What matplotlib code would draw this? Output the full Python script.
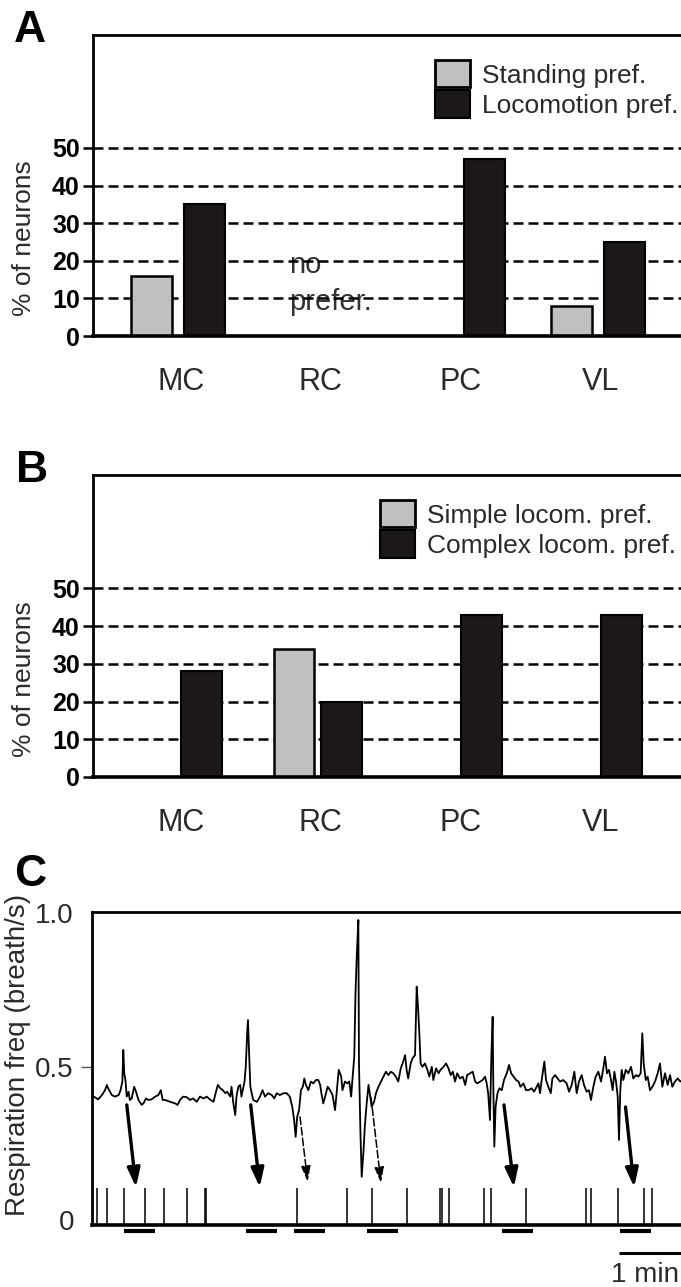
import matplotlib
matplotlib.use('Agg')
import matplotlib.pyplot as plt
import numpy as np
from matplotlib.patches import Patch, FancyArrowPatch

plt.rcParams['font.family'] = ['Liberation Sans', 'DejaVu Sans']

# ---------------- data ----------------
regions = ['MC', 'RC', 'PC', 'VL']
pct_ticks = [0, 10, 20, 30, 40, 50]

standing_pref = [16, 0, 0, 8]
locomotion_pref = [35, 0, 47, 25]
legend_A = ['Standing pref.', 'Locomotion pref.']

simple_locom_pref = [0, 34, 0, 0]
complex_locom_pref = [28, 20, 43, 43]
legend_B = ['Simple locom. pref.', 'Complex locom. pref.']

# respiration trace: (time in min, breath/s)
resp_trace = [
    (0.03, 0.402), (0.10, 0.393), (0.16, 0.407), (0.21, 0.423), (0.24, 0.44), (0.26, 0.429),
    (0.32, 0.407), (0.37, 0.402), (0.43, 0.407), (0.46, 0.423), (0.49, 0.451), (0.505, 0.554),
    (0.52, 0.478), (0.54, 0.456), (0.56, 0.402), (0.59, 0.418), (0.61, 0.391), (0.64, 0.396),
    (0.68, 0.434), (0.71, 0.418), (0.75, 0.391), (0.80, 0.375), (0.83, 0.38), (0.87, 0.396),
    (0.91, 0.391), (0.96, 0.393), (1.02, 0.402), (1.07, 0.407), (1.11, 0.423), (1.14, 0.391),
    (1.18, 0.391), (1.26, 0.385), (1.34, 0.38), (1.38, 0.375), (1.42, 0.391), (1.47, 0.402),
    (1.53, 0.40), (1.58, 0.391), (1.63, 0.396), (1.69, 0.385), (1.74, 0.402), (1.80, 0.396),
    (1.85, 0.402), (1.90, 0.393), (1.96, 0.385), (2.00, 0.418), (2.03, 0.44), (2.07, 0.429),
    (2.11, 0.423), (2.15, 0.413), (2.18, 0.418), (2.23, 0.402), (2.25, 0.434), (2.28, 0.38),
    (2.31, 0.342), (2.33, 0.402), (2.36, 0.434),
    (2.39, 0.44), (2.41, 0.402), (2.46, 0.451), (2.48, 0.499), (2.505, 0.619), (2.516, 0.651),
    (2.532, 0.554), (2.554, 0.434), (2.60, 0.391), (2.66, 0.385), (2.71, 0.402), (2.75, 0.423),
    (2.79, 0.402), (2.84, 0.413), (2.90, 0.407), (2.94, 0.396), (2.98, 0.413), (3.03, 0.407),
    (3.09, 0.413), (3.14, 0.413), (3.19, 0.402), (3.23, 0.369), (3.26, 0.326), (3.285, 0.271),
    (3.31, 0.337), (3.34, 0.358), (3.37, 0.423), (3.40, 0.434), (3.425, 0.461), (3.45, 0.44),
    (3.49, 0.423), (3.53, 0.451), (3.57, 0.445), (3.61, 0.456), (3.65, 0.456), (3.68, 0.44),
    (3.70, 0.413), (3.73, 0.38), (3.76, 0.402), (3.80, 0.434), (3.84, 0.423), (3.88, 0.407),
    (3.92, 0.358), (3.95, 0.423), (3.98, 0.489), (4.02, 0.467), (4.04, 0.423), (4.08, 0.451),
    (4.12, 0.445), (4.15, 0.451), (4.18, 0.402), (4.20, 0.456), (4.23, 0.532), (4.25, 0.738),
    (4.27, 0.858), (4.296, 0.977), (4.306, 0.51), (4.33, 0.282), (4.35, 0.141), (4.38, 0.228),
    (4.40, 0.304), (4.43, 0.38), (4.46, 0.44), (4.48, 0.413), (4.51, 0.369), (4.55, 0.385),
    (4.58, 0.413), (4.62, 0.434),
    (4.70, 0.467), (4.74, 0.483), (4.78, 0.472), (4.82, 0.483), (4.86, 0.478), (4.90, 0.467),
    (4.94, 0.451), (4.98, 0.494), (5.01, 0.51), (5.05, 0.537), (5.075, 0.489), (5.10, 0.461),
    (5.14, 0.51), (5.17, 0.527), (5.21, 0.537), (5.237, 0.76), (5.258, 0.695), (5.28, 0.608),
    (5.30, 0.51), (5.33, 0.499), (5.37, 0.51), (5.41, 0.489), (5.44, 0.467), (5.48, 0.499),
    (5.505, 0.456), (5.55, 0.494), (5.59, 0.478), (5.62, 0.489), (5.67, 0.499), (5.71, 0.51),
    (5.75, 0.494), (5.785, 0.472), (5.82, 0.483), (5.855, 0.451), (5.89, 0.478), (5.935, 0.461),
    (5.98, 0.467), (6.02, 0.44), (6.05, 0.472), (6.10, 0.478), (6.14, 0.483), (6.18, 0.451),
    (6.215, 0.445), (6.26, 0.451), (6.30, 0.456), (6.34, 0.467), (6.366, 0.445), (6.39, 0.413),
    (6.419, 0.326), (6.441, 0.532), (6.462, 0.662), (6.473, 0.434), (6.489, 0.239), (6.51, 0.369),
    (6.54, 0.413), (6.57, 0.429), (6.61, 0.423), (6.645, 0.456), (6.69, 0.478), (6.726, 0.505),
    (6.76, 0.478), (6.80, 0.467), (6.84, 0.456), (6.88, 0.451), (6.91, 0.434), (6.96, 0.445),
    (7.00, 0.423),
    (7.04, 0.423), (7.09, 0.429), (7.13, 0.418), (7.20, 0.445), (7.226, 0.413), (7.253, 0.456),
    (7.296, 0.516), (7.323, 0.456), (7.36, 0.434), (7.40, 0.413), (7.425, 0.461), (7.47, 0.472),
    (7.51, 0.461), (7.55, 0.451), (7.60, 0.456), (7.656, 0.445), (7.694, 0.418), (7.737, 0.44),
    (7.78, 0.483), (7.817, 0.413), (7.855, 0.451), (7.898, 0.472), (7.935, 0.44), (7.978, 0.418),
    (8.016, 0.423), (8.048, 0.391), (8.086, 0.434), (8.124, 0.467), (8.167, 0.483), (8.21, 0.451),
    (8.247, 0.494), (8.274, 0.532), (8.306, 0.478), (8.339, 0.489), (8.371, 0.456), (8.398, 0.423),
    (8.425, 0.483), (8.452, 0.451), (8.479, 0.402), (8.50, 0.261), (8.521, 0.423), (8.543, 0.489),
    (8.57, 0.456), (8.608, 0.489), (8.651, 0.478), (8.694, 0.499), (8.731, 0.461), (8.774, 0.472),
    (8.812, 0.467), (8.849, 0.478), (8.876, 0.608), (8.898, 0.51), (8.931, 0.456), (8.962, 0.467),
    (9.00, 0.423), (9.038, 0.434), (9.081, 0.451), (9.124, 0.478), (9.161, 0.51), (9.199, 0.434),
    (9.242, 0.478), (9.285, 0.44), (9.323, 0.472), (9.36, 0.434), (9.403, 0.451), (9.446, 0.461),
    (9.489, 0.451), (9.55, 0.46),
]

# neuron discharge / event times (min)
event_times = [0.081, 0.247, 0.511, 0.85, 1.166, 1.532, 1.815, 1.831, 3.306, 4.118, 4.521,
               5.081, 5.62, 5.64, 5.753, 6.318, 6.429, 6.992, 7.968, 8.048, 8.484, 8.903, 9.04]
# locomotion episodes (start, min), each 0.5 min long
locomotion_starts = [0.51, 2.49, 3.25, 4.43, 6.62, 8.52]
locomotion_duration = 0.5

# arrows: (start time, start freq, end time, end freq)
arrows_solid = [(0.561, 0.375, 0.71, 0.107), (2.56, 0.375, 2.706, 0.107),
                (6.645, 0.375, 6.806, 0.107), (8.605, 0.368, 8.745, 0.107)]
arrows_dashed = [(3.355, 0.336, 3.479, 0.124), (4.50, 0.40, 4.661, 0.12)]

c_yticks = [0, 0.5, 1.0]
c_yticklabels = ['0', '0.5', '1.0']
scale_bar_min = 1.0

# ---------------- figure ----------------
W, H = 681, 1287
fig = plt.figure(figsize=(W / 100, H / 100), dpi=100)


def fx(px):
    return px / W


def fy(py):
    return 1 - py / H


GRAY = '#c0c0c0'
DARK = '#1c1818'
TXT = '#2a2a2a'


def bar_panel(top_px, bottom_px, left_vals, right_vals, labels, offset,
              leg_left_px, leg_top_px):
    ax = fig.add_axes([fx(93), fy(bottom_px), fx(700) - fx(93), (bottom_px - top_px) / H])
    ax.set_xlim(-0.607, 3.729)
    ax.set_ylim(0, 80)
    x = np.arange(len(regions))
    for v in pct_ticks[1:]:
        ax.axhline(v, color='black', lw=1.8, ls=(0, (4, 2)), zorder=1.5)
    for xi, v in zip(x, left_vals):
        if v > 0:
            ax.bar(xi - offset, v, width=0.29, color=GRAY, edgecolor='black',
                   linewidth=1.8, zorder=2)
    for xi, v in zip(x, right_vals):
        if v > 0:
            ax.bar(xi + offset, v, width=0.29, color=DARK, edgecolor='black',
                   linewidth=1.5, zorder=2)
    ax.set_xticks(x + 0.02)
    ax.set_xticklabels(regions, fontsize=22, color=TXT)
    ax.tick_params(axis='x', length=0, pad=22)
    ax.set_yticks(pct_ticks)
    ax.set_yticklabels([str(v) for v in pct_ticks], fontsize=18, fontweight='bold')
    ax.tick_params(axis='y', length=7, width=1.8, pad=2.5)
    ax.spines['right'].set_visible(False)
    ax.spines['top'].set_linewidth(2.0)
    ax.spines['left'].set_linewidth(2.0)
    ax.spines['bottom'].set_linewidth(2.6)
    handles = [Patch(facecolor=GRAY, edgecolor='black', linewidth=2.0),
               Patch(facecolor=DARK, edgecolor='black', linewidth=1.5)]
    ax.legend(handles, labels, loc='upper left',
              bbox_to_anchor=((leg_left_px - 93) / 607,
                              1 - (leg_top_px - top_px) / (bottom_px - top_px)),
              frameon=False, fontsize=19, handlelength=1.33, handleheight=1.22,
              handletextpad=0.45, labelspacing=0.1, borderpad=0, borderaxespad=0,
              labelcolor=TXT)
    return ax


axA = bar_panel(35, 336, standing_pref, locomotion_pref, legend_A, 0.19, 435, 60)
axA.text(0.793, 18.8, 'no', fontsize=21, color='#333333', va='center', ha='left', zorder=1)
axA.text(0.793, 9.0, 'prefer.', fontsize=21, color='#333333', va='center', ha='left', zorder=1)

axB = bar_panel(475, 777, simple_locom_pref, complex_locom_pref, legend_B, 0.17, 380, 500)

fig.text(fx(24), fy(238), '% of neurons', rotation=90, ha='center', va='center',
         fontsize=19, color=TXT)
fig.text(fx(24), fy(679), '% of neurons', rotation=90, ha='center', va='center',
         fontsize=19, color=TXT)

fig.text(fx(14), fy(42), 'A', fontsize=32, fontweight='bold', va='baseline')
fig.text(fx(16), fy(482), 'B', fontsize=32, fontweight='bold', va='baseline')
fig.text(fx(14), fy(886), 'C', fontsize=32, fontweight='bold', va='baseline')

# ---------------- panel C ----------------
axC = fig.add_axes([fx(92), fy(1225), fx(700) - fx(92), (1225 - 912) / H])
axC.set_xlim(0, (700 - 92) / 62)
axC.set_ylim(-0.016, 1.003)
t = [p[0] for p in resp_trace]
f = [p[1] for p in resp_trace]
axC.plot(t, f, color='black', lw=1.3, zorder=3)
axC.vlines(event_times, -0.016, 0.105, color='black', lw=1.1)
for s in locomotion_starts:
    axC.plot([s, s + locomotion_duration], [-0.034, -0.034], color='black', lw=3,
             solid_capstyle='butt', clip_on=False)
for (x0, y0, x1, y1) in arrows_solid:
    axC.add_patch(FancyArrowPatch((x0, y0), (x1, y1),
                                  arrowstyle='-|>,head_width=0.32,head_length=0.95',
                                  mutation_scale=12, lw=2.4, color='black',
                                  shrinkA=0, shrinkB=0, zorder=4))
for (x0, y0, x1, y1) in arrows_dashed:
    axC.add_patch(FancyArrowPatch((x0, y0), (x1, y1),
                                  arrowstyle='-|>,head_width=0.28,head_length=0.95',
                                  mutation_scale=10, lw=1.1, color='black',
                                  linestyle=(0, (5, 2)),
                                  shrinkA=0, shrinkB=0, zorder=4))
# scale bar
sb_end = 9.497
axC.plot([sb_end - scale_bar_min, sb_end], [-0.1065, -0.1065], color='black', lw=2.2,
         solid_capstyle='butt', clip_on=False)
axC.text(9.46, -0.18, '1 min', fontsize=20, color=TXT, ha='right', va='center',
         clip_on=False)

axC.set_xticks([])
axC.set_yticks(c_yticks)
axC.set_yticklabels(c_yticklabels, fontsize=20, color=TXT)
axC.tick_params(axis='y', length=8, width=1.0, color='#555555', pad=5)
for i, tk in enumerate(axC.yaxis.get_major_ticks()):
    if c_yticks[i] != 0.5:
        tk.tick1line.set_visible(False)
axC.spines['right'].set_visible(False)
axC.spines['top'].set_linewidth(2.0)
axC.spines['left'].set_linewidth(2.0)
axC.spines['bottom'].set_linewidth(2.6)

fig.text(fx(18), fy(1055), 'Respiration freq (breath/s)', rotation=90, ha='center',
         va='center', fontsize=20, color=TXT)

fig.savefig('out.png', dpi=100)
